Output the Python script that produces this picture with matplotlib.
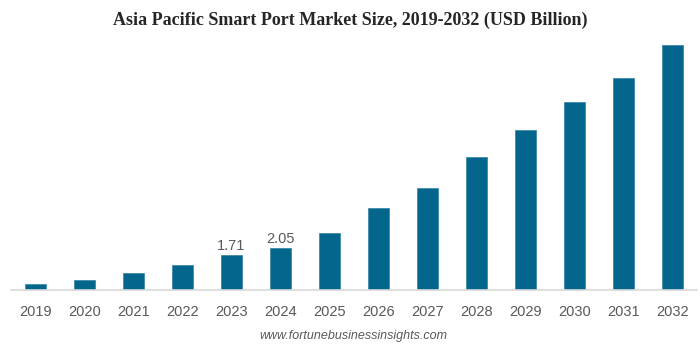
import numpy as np
import matplotlib.pyplot as plt

years = ['2019', '2020', '2021', '2022', '2023', '2024', '2025',
         '2026', '2027', '2028', '2029', '2030', '2031', '2032']
market_size = [0.31, 0.50, 0.81, 1.20, 1.71, 2.05, 2.80,
               3.98, 4.98, 6.48, 7.79, 9.17, 10.36, 11.97]
labelled = {'2023': 1.71, '2024': 2.05}

bar_color = '#05668d'

fig = plt.figure(figsize=(7, 3.48), dpi=100)
ax = fig.add_axes([11 / 700, 1 - 290 / 348, 686 / 700, 250 / 348])

x = np.arange(len(years))
ax.bar(x, market_size, width=0.41, color=bar_color, edgecolor='#3f8aa8', linewidth=0.6)

for i, yr in enumerate(years):
    if yr in labelled:
        ax.text(i, labelled[yr] + 0.12, f'{labelled[yr]:.2f}', ha='center', va='bottom',
                fontsize=10.5, color='#595959', family='Liberation Sans')

ax.set_xlim(-0.5, len(years) - 0.5)
ax.set_ylim(0, 12.2)
ax.set_xticks(x)
ax.set_xticklabels(years, fontsize=10.5, color='#595959', family='Liberation Sans')
ax.tick_params(axis='x', length=0, pad=11)
ax.set_yticks([])
for side in ['top', 'right', 'left']:
    ax.spines[side].set_visible(False)
ax.spines['bottom'].set_color('#d9d9d9')
ax.spines['bottom'].set_linewidth(1.2)

fig.text(0.5, 1 - 20.5 / 348, 'Asia Pacific Smart Port Market Size, 2019-2032 (USD Billion)',
         ha='center', va='center', fontsize=13, fontweight='bold',
         family='Liberation Serif', color='#262626')
fig.text(0.505, 1 - 336 / 348, 'www.fortunebusinessinsights.com', ha='center', va='center',
         fontsize=9, style='italic', color='#595959', family='Liberation Sans')

fig.savefig('out.png', dpi=100)
